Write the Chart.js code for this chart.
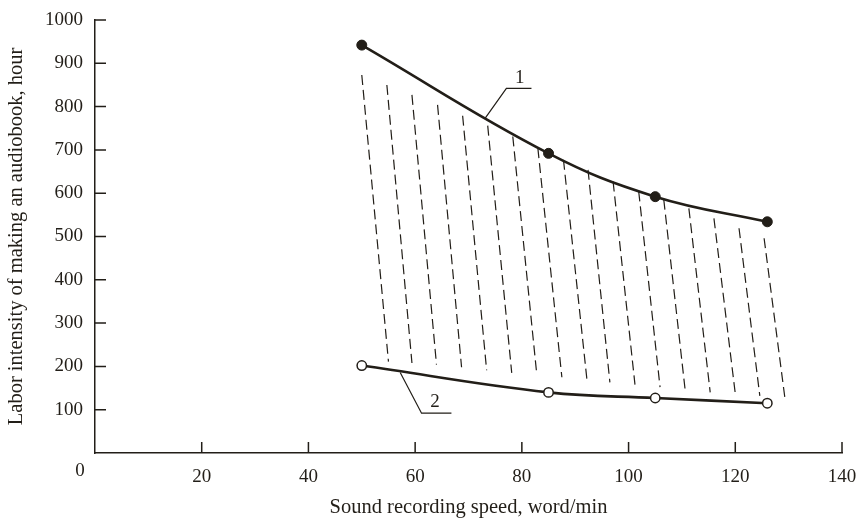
<!DOCTYPE html>
<html>
<head>
<meta charset="utf-8">
<script src="https://cdn.jsdelivr.net/npm/chart.js@4.4.1/dist/chart.umd.min.js"></script>
<style>
  html, body { margin: 0; padding: 0; background: #fff; }
  #wrap { width: 858px; height: 524px; }
</style>
</head>
<body>
<div id="wrap"><canvas id="mainChart" width="858" height="524"></canvas></div>
<script>
// Values
const speeds = [50, 85, 105, 126];
const laborUpper = [942, 692, 592, 534];   // curve 1, filled dots
const laborLower = [202, 140, 127, 115];   // curve 2, open circles

// Dashed hatching between the curves (top end -> bottom end)
const hatchTopX = [50.0, 54.7, 59.4, 64.2, 68.9, 73.6, 78.3, 83.0, 87.8, 92.4, 97.1, 101.9, 106.6, 111.3, 116.0, 120.7, 125.4];
const hatchTopY = [873, 850, 827, 804, 779, 756, 731, 704, 677, 654, 627, 604, 585, 565, 542, 519, 496];
const hatchBottomX = [55.0, 59.4, 64.0, 68.7, 73.4, 78.1, 82.8, 87.5, 92.2, 96.5, 101.2, 105.9, 110.6, 115.3, 120.0, 124.6, 129.3];
const hatchBottomY = [211, 208, 204, 198, 191, 185, 181, 175, 169, 163, 158, 152, 146, 140, 137, 132, 127];

// Callout leaders and their labels
const leader1X = [73.1, 77.1, 81.8];
const leader1Y = [773, 842, 842];
const leader2X = [57.2, 61.2, 66.8];
const leader2Y = [186, 92, 92];
const calloutText = ['1', '2'];
const calloutX = [79.6, 63.7];
const calloutY = [867, 117];

const xTicks = [0, 20, 40, 60, 80, 100, 120, 140];
const yTicks = [0, 100, 200, 300, 400, 500, 600, 700, 800, 900, 1000];

const xTitle = 'Sound recording speed, word/min';
const yTitle = 'Labor intensity of making an audiobook, hour';

const ink = '#221e18';
const serif = "'Liberation Serif', 'DejaVu Serif', serif";

const toPoints = (xs, ys) => xs.map((x, i) => ({ x: x, y: ys[i] }));

const datasets = [];

hatchTopX.forEach((x, i) => {
    datasets.push({
        data: [{ x: x, y: hatchTopY[i] }, { x: hatchBottomX[i], y: hatchBottomY[i] }],
        borderColor: ink,
        borderWidth: 1.2,
        borderDash: [10, 5],
        pointRadius: 0,
        tension: 0
    });
});

datasets.push({
    data: toPoints(leader1X, leader1Y),
    borderColor: ink, borderWidth: 1.2, pointRadius: 0, tension: 0
});
datasets.push({
    data: toPoints(leader2X, leader2Y),
    borderColor: ink, borderWidth: 1.2, pointRadius: 0, tension: 0
});

datasets.push({
    data: toPoints(speeds, laborUpper),
    borderColor: ink,
    borderWidth: 2.6,
    tension: 0.4,
    pointRadius: 5,
    pointBackgroundColor: ink,
    pointBorderColor: ink,
    pointBorderWidth: 1
});
datasets.push({
    data: toPoints(speeds, laborLower),
    borderColor: ink,
    borderWidth: 2.6,
    tension: 0.4,
    pointRadius: 4.7,
    pointBackgroundColor: '#ffffff',
    pointBorderColor: ink,
    pointBorderWidth: 1.5
});

// inward tick marks, the lone "0" at the origin and the callout numbers
const extras = {
    id: 'extras',
    afterDraw(chart) {
        const { ctx, scales: { x, y } } = chart;
        ctx.save();
        ctx.strokeStyle = ink;
        ctx.lineWidth = 1.5;
        ctx.beginPath();
        xTicks.forEach(v => {
            if (v === 0) return;
            const px = x.getPixelForValue(v);
            ctx.moveTo(px, y.bottom);
            ctx.lineTo(px, y.bottom - 11);
        });
        yTicks.forEach(v => {
            if (v === 0) return;
            const py = y.getPixelForValue(v);
            ctx.moveTo(x.left, py);
            ctx.lineTo(x.left + 11, py);
        });
        ctx.stroke();

        ctx.fillStyle = ink;
        ctx.font = '19px ' + serif;
        ctx.textAlign = 'center';
        ctx.textBaseline = 'middle';
        ctx.fillText('0', x.getPixelForValue(0) - 15, y.getPixelForValue(0) + 18);
        calloutText.forEach((t, i) => {
            ctx.fillText(t, x.getPixelForValue(calloutX[i]), y.getPixelForValue(calloutY[i]));
        });
        ctx.restore();
    }
};

const ctx = document.getElementById('mainChart').getContext('2d');
new Chart(ctx, {
    type: 'line',
    data: { datasets: datasets },
    plugins: [extras],
    options: {
        responsive: false,
        animation: false,
        devicePixelRatio: 1,
        layout: { padding: { left: 0, right: 16, top: 20, bottom: 0 } },
        plugins: {
            legend: { display: false },
            tooltip: { enabled: false }
        },
        scales: {
            x: {
                type: 'linear',
                min: 0,
                max: 140,
                afterFit: s => { s.height = 71; s.paddingLeft = 0; s.paddingRight = 0; },
                afterBuildTicks: s => { s.ticks = xTicks.map(v => ({ value: v })); },
                grid: { display: false, drawTicks: false },
                border: { display: true, color: ink, width: 1.5 },
                ticks: {
                    padding: 13,
                    color: ink,
                    font: { family: serif, size: 19 },
                    callback: v => (v === 0 ? '' : v)
                },
                title: {
                    display: true,
                    text: xTitle,
                    color: ink,
                    font: { family: serif, size: 20.5 },
                    padding: { top: 0, bottom: 4 }
                }
            },
            y: {
                type: 'linear',
                min: 0,
                max: 1000,
                afterFit: s => { s.width = 95; s.paddingTop = 0; s.paddingBottom = 0; },
                afterBuildTicks: s => { s.ticks = yTicks.map(v => ({ value: v })); },
                grid: { display: false, drawTicks: false },
                border: { display: true, color: ink, width: 1.5 },
                ticks: {
                    padding: 12,
                    color: ink,
                    font: { family: serif, size: 19 },
                    callback: v => (v === 0 ? '' : v)
                },
                title: {
                    display: true,
                    text: yTitle,
                    color: ink,
                    font: { family: serif, size: 20.5 },
                    padding: { top: 4, bottom: 0 }
                }
            }
        }
    }
});
</script>
</body>
</html>
